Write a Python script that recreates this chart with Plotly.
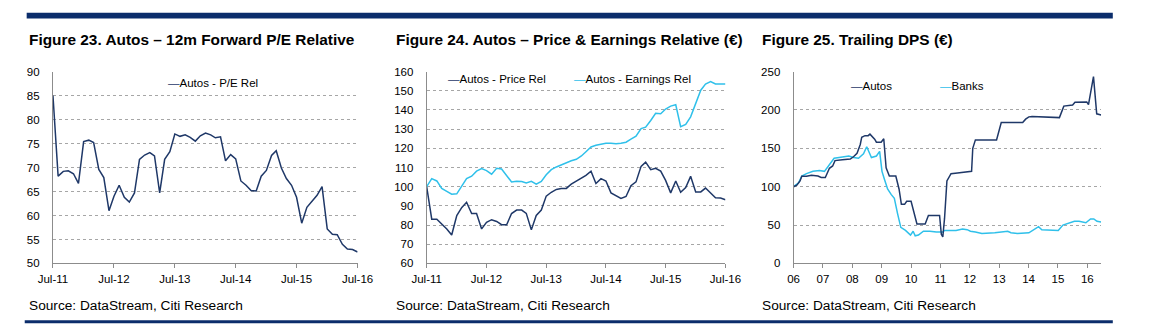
import pandas as pd
import plotly.graph_objects as go

W, H = 1158, 336

# ---------------- data ----------------
months = pd.date_range("2011-07-01", "2016-07-01", freq="MS")

pe_rel = [85.0, 68.2, 69.2, 69.3, 68.7, 66.7, 75.4, 75.7, 75.2, 69.6, 67.9, 61.0, 64.0, 66.3, 63.8,
          62.8, 64.7, 71.7, 72.6, 73.1, 72.4, 64.7, 71.7, 73.3, 77.0, 76.5, 76.8, 76.3, 75.5, 76.6,
          77.2, 76.8, 76.2, 76.4, 71.4, 72.7, 71.8, 67.2, 66.3, 65.2, 65.1, 68.2, 69.4, 72.5, 73.5,
          69.9, 67.7, 66.3, 63.8, 58.4, 61.7, 63.0, 64.2, 66.0, 57.2, 56.1, 56.0, 54.0, 53.0, 52.9, 52.4]

price_rel = [100, 83.1, 83.1, 80.7, 78.0, 74.8, 85.0, 89.2, 91.9, 86.0, 86.0, 78.0, 81.4, 82.8, 81.9,
             80.2, 80.2, 86.0, 87.8, 87.8, 86.1, 77.5, 85.0, 87.8, 95.1, 97.1, 98.6, 99.0, 99.1, 101.3,
             103.0, 104.7, 105.9, 108.1, 101.7, 104.2, 103.0, 96.8, 95.1, 93.9, 94.9, 100.5, 102.5, 110.6,
             112.8, 108.9, 109.6, 108.1, 103.3, 96.8, 103.0, 97.1, 99.6, 105.4, 97.3, 97.3, 99.3, 96.6,
             94.2, 94.1, 93.2]

earn_rel = [100, 104.2, 103.0, 99.1, 97.6, 96.1, 96.3, 100.5, 104.2, 105.5, 108.1, 109.4, 108.4, 106.5,
            109.6, 109.2, 106.0, 102.5, 102.8, 102.7, 102.0, 102.8, 101.3, 102.7, 106.2, 108.9, 110.3,
            111.4, 112.4, 113.5, 114.3, 116.0, 118.2, 120.7, 121.6, 122.1, 122.6, 122.7, 122.4, 122.6,
            123.2, 124.8, 126.3, 130.3, 131.0, 134.5, 138.3, 138.0, 140.5, 142.0, 142.7, 131.3, 132.5,
            136.4, 143.5, 150.3, 153.5, 154.8, 153.5, 153.5, 153.5]

dps_autos_t = [2006.00, 2006.11, 2006.22, 2006.28, 2006.44, 2006.61, 2006.83, 2006.94, 2007.08, 2007.22,
               2007.33, 2007.41, 2007.66, 2007.93, 2008.04, 2008.16, 2008.27, 2008.32, 2008.43, 2008.54,
               2008.60, 2008.76, 2008.82, 2008.98, 2009.07, 2009.15, 2009.26, 2009.48, 2009.59, 2009.67,
               2009.78, 2009.85, 2010.00, 2010.09, 2010.20, 2010.48, 2010.59, 2010.97, 2011.03, 2011.08,
               2011.14, 2011.22, 2011.36, 2011.58, 2011.97, 2012.06, 2012.10, 2012.19, 2012.91, 2013.07,
               2013.80, 2013.90, 2014.01, 2014.12, 2015.05, 2015.20, 2015.50, 2015.58, 2015.98, 2016.04,
               2016.21, 2016.32, 2016.47]
dps_autos = [100, 102, 107.5, 113.5, 113.5, 115, 114, 112, 112, 124, 127, 134, 135, 136, 139, 143.5, 155,
             164.5, 166.5, 166.5, 168.5, 162, 158, 158, 162.5, 124.5, 114, 114, 97, 77, 77, 81, 81, 67.5,
             51.5, 51.5, 62.5, 62.5, 38, 34.5, 59, 107.5, 117, 118, 119, 120, 150, 161, 161, 183.5, 183.5,
             188, 191, 191.5, 190, 205, 206.5, 210, 210.5, 207, 243.5, 195, 193.5]

dps_banks_t = [2006.00, 2006.17, 2006.28, 2006.44, 2006.66, 2006.88, 2007.05, 2007.22, 2007.38, 2007.55,
               2007.88, 2008.04, 2008.21, 2008.38, 2008.49, 2008.65, 2008.82, 2008.93, 2009.01, 2009.09,
               2009.20, 2009.32, 2009.43, 2009.54, 2009.65, 2009.81, 2009.98, 2010.07, 2010.14, 2010.25,
               2010.42, 2010.64, 2010.86, 2011.08, 2011.14, 2011.53, 2011.75, 2011.91, 2012.02, 2012.19,
               2012.41, 2012.85, 2013.29, 2013.40, 2013.62, 2014.01, 2014.18, 2014.34, 2014.45, 2014.84,
               2015.01, 2015.17, 2015.34, 2015.56, 2015.72, 2015.95, 2016.11, 2016.22, 2016.33, 2016.47]
dps_banks = [100, 105, 114, 117, 120, 121, 120, 128, 137, 138, 140, 138, 137, 143, 152, 138, 140, 146, 120,
             110, 97, 90, 85, 65, 47, 43, 37, 42, 36, 37, 42, 42, 41, 41, 43, 43, 45, 44, 42, 41, 39, 40,
             42, 40, 39, 40, 44, 48, 44, 43, 43, 50, 52, 55, 55, 53, 58, 58, 55, 54]

year_ticks = list(range(2006, 2017))
year_labels = ["06", "07", "08", "09", "10", "11", "12", "13", "14", "15", "16"]

titles = ["Figure 23. Autos \u2013 12m Forward P/E Relative",
          "Figure 24. Autos \u2013 Price & Earnings Relative (\u20ac)",
          "Figure 25. Trailing DPS (\u20ac)"]
source = "Source: DataStream, Citi Research"

# ---------------- style ----------------
NAVY = "#1f3868"
CYAN = "#2fc0ea"
BAR = "#0b2d6b"
GRID = "#a6a6a6"
AXIS = "#8c8c8c"
NARROW = "Liberation Sans Narrow, Arial Narrow, Liberation Sans, Arial, sans-serif"
REG = "Liberation Sans, Arial, sans-serif"

def px_x(p):
    return p / W

def px_y(p):
    return 1 - p / H

fig = go.Figure()
fig.add_trace(go.Scatter(x=months, y=pe_rel, mode="lines", line=dict(color=NAVY, width=1.5),
                         name="Autos - P/E Rel", xaxis="x", yaxis="y", showlegend=False))
fig.add_trace(go.Scatter(x=months, y=price_rel, mode="lines", line=dict(color=NAVY, width=1.5),
                         name="Autos - Price Rel", xaxis="x2", yaxis="y2", showlegend=False))
fig.add_trace(go.Scatter(x=months, y=earn_rel, mode="lines", line=dict(color=CYAN, width=1.5),
                         name="Autos - Earnings Rel", xaxis="x2", yaxis="y2", showlegend=False))
fig.add_trace(go.Scatter(x=dps_banks_t, y=dps_banks, mode="lines", line=dict(color=CYAN, width=1.5),
                         name="Banks", xaxis="x3", yaxis="y3", showlegend=False))
fig.add_trace(go.Scatter(x=dps_autos_t, y=dps_autos, mode="lines", line=dict(color=NAVY, width=1.5),
                         name="Autos", xaxis="x3", yaxis="y3", showlegend=False))

tickfont = dict(family=NARROW, size=11.5, color="#000000")
ydom = [px_y(267), px_y(68)]

def xcommon():
    return dict(showline=True, linecolor=AXIS, linewidth=1, showgrid=False, zeroline=False,
                ticks="outside", ticklen=4, tickcolor=AXIS, tickfont=tickfont, ticklabelstandoff=1)

def ycommon():
    return dict(showline=True, linecolor=AXIS, linewidth=1, showgrid=True, gridcolor=GRID,
                griddash="dot", gridwidth=1, zeroline=False, ticks="", tickfont=tickfont,
                ticklabelstandoff=10, domain=ydom)

layout = dict(
    width=W, height=H, margin=dict(l=0, r=0, t=0, b=0),
    paper_bgcolor="white", plot_bgcolor="white", showlegend=False,
    xaxis=dict(domain=[px_x(39), px_x(352)], anchor="y", type="date",
               range=["2011-07-01", "2016-07-01"], tick0="2011-07-01", dtick="M12",
               tickformat="%b-%y", **xcommon()),
    yaxis=dict(anchor="x", range=[50, 90], dtick=5, **ycommon()),
    xaxis2=dict(domain=[px_x(423), px_x(730)], anchor="y2", type="date",
                range=["2011-07-01", "2016-07-01"], tick0="2011-07-01", dtick="M12",
                tickformat="%b-%y", **xcommon()),
    yaxis2=dict(anchor="x2", range=[60, 160], dtick=10, **ycommon()),
    xaxis3=dict(domain=[px_x(800), px_x(1116)], anchor="y3", range=[2006, 2016.47],
                tickvals=year_ticks, ticktext=year_labels, **xcommon()),
    yaxis3=dict(anchor="x3", range=[0, 250], dtick=50, **ycommon()),
)
fig.update_layout(**layout)

ann = []
for x0, t in zip([12, 389, 766], titles):
    ann.append(dict(text=t, x=px_x(x0), y=px_y(35), xref="paper", yref="paper", xanchor="left",
                    yanchor="middle", showarrow=False,
                    font=dict(family=NARROW, size=15.4, color="#000000", weight="bold")))
for x0 in [12, 389, 766]:
    ann.append(dict(text=source, x=px_x(x0), y=px_y(311), xref="paper", yref="paper", xanchor="left",
                    yanchor="middle", showarrow=False, font=dict(family=REG, size=13.7, color="#000000")))

def legend_item(name, color, x0, yc):
    return dict(text=f"<span style='color:{color}'>\u2014</span>{name}", x=px_x(x0), y=px_y(yc),
                xref="paper", yref="paper", xanchor="left", yanchor="middle", showarrow=False,
                font=dict(family=NARROW, size=11.5, color="#000000"))

ann.append(legend_item("Autos - P/E Rel", NAVY, 155, 80))
ann.append(legend_item("Autos - Price Rel", NAVY, 443, 76))
ann.append(legend_item("Autos - Earnings Rel", CYAN, 572, 76))
ann.append(legend_item("Autos", NAVY, 857, 83))
ann.append(legend_item("Banks", CYAN, 948, 83))
fig.update_layout(annotations=ann)

fig.update_layout(shapes=[
    dict(type="rect", xref="paper", yref="paper", x0=px_x(12), x1=px_x(1128), y0=px_y(13), y1=px_y(7),
         fillcolor=BAR, line=dict(width=0)),
    dict(type="rect", xref="paper", yref="paper", x0=px_x(10), x1=px_x(1128), y0=px_y(329), y1=px_y(326),
         fillcolor=BAR, line=dict(width=0)),
])

fig.write_html("out.html")
